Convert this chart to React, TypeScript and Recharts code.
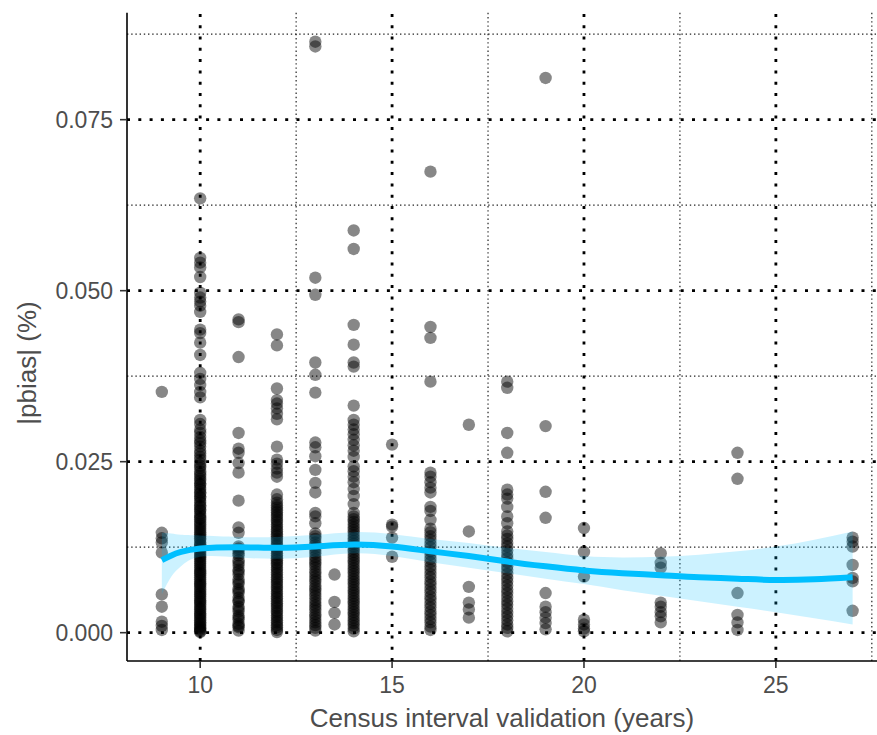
import {
  ComposedChart,
  Scatter,
  Line,
  Area,
  XAxis,
  YAxis,
  ReferenceLine,
} from 'recharts';

// observed |pbias| per census interval (years)
const col9 = [0.0352, 0.0146, 0.0138, 0.0132, 0.0117, 0.0056, 0.0038, 0.0016, 0.001, 0.0004];
const col10 = [
  0.0635, 0.0548, 0.0541, 0.0534, 0.052, 0.0497, 0.049, 0.0484, 0.0478, 0.0469, 0.0443, 0.0438,
  0.0424, 0.0406, 0.038, 0.0371, 0.0362, 0.0352, 0.0344, 0.0311, 0.0305, 0.0297, 0.0292, 0.0286,
  0.0281, 0.0277, 0.0272, 0.0266, 0.0262, 0.0257, 0.0253, 0.0248, 0.0244, 0.0241, 0.0236, 0.0232,
  0.0229, 0.0225, 0.0222, 0.0218, 0.0216, 0.0212, 0.0209, 0.0205, 0.0203, 0.0199, 0.0197, 0.0193,
  0.019, 0.0186, 0.0184, 0.018, 0.0178, 0.0174, 0.0171, 0.0168, 0.0166, 0.0162, 0.0159, 0.0156,
  0.0153, 0.015, 0.0147, 0.0144, 0.0141, 0.0138, 0.0136, 0.0132, 0.0129, 0.0127, 0.0124, 0.0121,
  0.0118, 0.0115, 0.0112, 0.011, 0.0107, 0.0104, 0.0101, 0.0098, 0.0095, 0.0092, 0.0089, 0.0087,
  0.0084, 0.0081, 0.0078, 0.0075, 0.0072, 0.007, 0.0067, 0.0064, 0.0061, 0.0058, 0.0056, 0.0053,
  0.005, 0.0047, 0.0045, 0.0042, 0.0039, 0.0036, 0.0034, 0.0031, 0.0028, 0.0026, 0.0023, 0.002,
  0.0018, 0.0015, 0.0013, 0.001, 0.0008, 0.0006, 0.0004, 0.0002, 0.0001,
];
const col11 = [
  0.0458, 0.0454, 0.0403, 0.0292, 0.0269, 0.0263, 0.0248, 0.0234, 0.0193, 0.0154, 0.0146, 0.0126,
  0.0123, 0.012, 0.0116, 0.0113, 0.0106, 0.0102, 0.0098, 0.0092, 0.0089, 0.0085, 0.0078, 0.0074,
  0.0071, 0.0064, 0.0061, 0.0058, 0.0051, 0.0047, 0.0045, 0.0038, 0.0035, 0.0031, 0.0025, 0.0022,
  0.0019, 0.0013, 0.001, 0.0008, 0.0003,
];
const col12 = [
  0.0436, 0.042, 0.0357, 0.034, 0.0335, 0.0328, 0.032, 0.0312, 0.0272, 0.0253, 0.0247, 0.024,
  0.0234, 0.0228, 0.0202, 0.0195, 0.019, 0.0186, 0.0183, 0.0179, 0.0176, 0.0172, 0.0169, 0.0165,
  0.0162, 0.0158, 0.0155, 0.0151, 0.0148, 0.0144, 0.0141, 0.0137, 0.0134, 0.013, 0.0127, 0.0123,
  0.012, 0.0116, 0.0113, 0.0109, 0.0106, 0.0102, 0.0099, 0.0095, 0.0092, 0.0088, 0.0085, 0.0081,
  0.0078, 0.0074, 0.0071, 0.0067, 0.0064, 0.006, 0.0057, 0.0053, 0.005, 0.0046, 0.0043, 0.0039,
  0.0036, 0.0032, 0.0029, 0.0025, 0.0022, 0.0018, 0.0015, 0.0011, 0.0008, 0.0004, 0.0001,
];
const col13 = [
  0.0864, 0.0857, 0.0519, 0.0494, 0.0395, 0.0377, 0.0351, 0.0278, 0.0271, 0.0258, 0.0238, 0.0219,
  0.0205, 0.0175, 0.017, 0.016, 0.0145, 0.0141, 0.0137, 0.0132, 0.0128, 0.0124, 0.012, 0.0116,
  0.0111, 0.0107, 0.0103, 0.0099, 0.0095, 0.009, 0.0086, 0.0082, 0.0078, 0.0074, 0.0069, 0.0065,
  0.0061, 0.0057, 0.0053, 0.0048, 0.0044, 0.004, 0.0036, 0.0032, 0.0027, 0.0023, 0.0019, 0.0015,
  0.0011, 0.0007, 0.0003,
];
const col13h = [0.0085, 0.0045, 0.0029, 0.0012];
const col14 = [
  0.0588, 0.0561, 0.045, 0.0421, 0.0395, 0.0389, 0.0332, 0.0311, 0.0304, 0.0297, 0.029, 0.0282,
  0.0274, 0.0266, 0.0257, 0.0243, 0.0236, 0.0228, 0.022, 0.021, 0.02, 0.0188, 0.0175, 0.017,
  0.0166, 0.0162, 0.0158, 0.0154, 0.015, 0.0146, 0.0142, 0.0138, 0.0134, 0.013, 0.0126, 0.0122,
  0.0118, 0.0114, 0.011, 0.0106, 0.0102, 0.0098, 0.0094, 0.009, 0.0086, 0.0082, 0.0078, 0.0074,
  0.007, 0.0066, 0.0062, 0.0058, 0.0054, 0.005, 0.0046, 0.0042, 0.0038, 0.0034, 0.003, 0.0026,
  0.0022, 0.0018, 0.0014, 0.001, 0.0006, 0.0002,
];
const col15 = [0.0275, 0.0158, 0.0155, 0.0139, 0.0111];
const col16 = [
  0.0674, 0.0447, 0.0431, 0.0367, 0.0234, 0.0228, 0.022, 0.0212, 0.0205, 0.0184, 0.0178, 0.0165,
  0.0152, 0.0147, 0.0141, 0.0136, 0.013, 0.0125, 0.0119, 0.0114, 0.0108, 0.0103, 0.0097, 0.0092,
  0.0086, 0.0081, 0.0075, 0.007, 0.0064, 0.0059, 0.0053, 0.0048, 0.0042, 0.0037, 0.0031, 0.0026,
  0.002, 0.0015, 0.0009, 0.0004,
];
const col17 = [0.0304, 0.0148, 0.0067, 0.0044, 0.0034, 0.0022];
const col18 = [
  0.0367, 0.0358, 0.0292, 0.0263, 0.0209, 0.0202, 0.0196, 0.0184, 0.017, 0.016, 0.0148, 0.0142,
  0.0137, 0.0131, 0.0126, 0.012, 0.0114, 0.0109, 0.0103, 0.0097, 0.0092, 0.0086, 0.008, 0.0075,
  0.0069, 0.0063, 0.0058, 0.0052, 0.0046, 0.0041, 0.0035, 0.0029, 0.0024, 0.0018, 0.0012, 0.0007,
  0.0002,
];
const col19 = [0.0811, 0.0302, 0.0206, 0.0168, 0.0058, 0.0038, 0.003, 0.0022, 0.0014, 0.0005];
const col20 = [0.0153, 0.0118, 0.0082, 0.0019, 0.0012, 0.0006, 0.0002];
const col22 = [0.0116, 0.0102, 0.0095, 0.0044, 0.0038, 0.003, 0.0024, 0.0015];
const col24 = [0.0263, 0.0225, 0.0058, 0.0026, 0.0015, 0.0004];
const col27 = [0.0139, 0.0133, 0.0126, 0.0099, 0.008, 0.0075, 0.0032];

const intervals = [9, 10, 11, 12, 13, 13.5, 14, 15, 16, 17, 18, 19, 20, 22, 24, 27];
const columns = [col9, col10, col11, col12, col13, col13h, col14, col15, col16, col17, col18, col19, col20, col22, col24, col27];

// loess fit and its confidence band
const fitX = [9, 9.25, 9.5, 10, 11, 12, 13, 14, 15, 16, 17, 18, 19, 20, 21, 22, 23, 24, 25, 26, 27];
const fitY = [0.0106, 0.0113, 0.0118, 0.0123, 0.0125, 0.0124, 0.0126, 0.0129, 0.0126, 0.0119, 0.0112, 0.0104, 0.0097, 0.0091, 0.0087, 0.0084, 0.0081, 0.0079, 0.0077, 0.0078, 0.0081];
const fitLo = [0.0056, 0.0082, 0.0097, 0.0111, 0.011, 0.0108, 0.0111, 0.0116, 0.0112, 0.0103, 0.0095, 0.0087, 0.0079, 0.0071, 0.0062, 0.0054, 0.0046, 0.0038, 0.003, 0.0021, 0.0012];
const fitHi = [0.0146, 0.0145, 0.0143, 0.0142, 0.014, 0.014, 0.0143, 0.0147, 0.0144, 0.0137, 0.0131, 0.0124, 0.0118, 0.0112, 0.011, 0.0111, 0.0114, 0.0119, 0.0126, 0.0136, 0.0148];

const xTicks = [10, 15, 20, 25];
const yTicks = [0, 0.025, 0.05, 0.075];
const xMinor = [12.5, 17.5, 22.5, 27.5];
const yMinor = [0.0125, 0.0375, 0.0625, 0.0875];

const points = intervals.flatMap((x, i) => columns[i].map(y => ({ x, y })));
const fit = fitX.map((x, i) => ({ x, y: fitY[i], band: [fitLo[i], fitHi[i]] }));

const TEXT = '#4d4d4d';
const FONT = '"Liberation Sans", Arial, sans-serif';

const Dot = (props: any) => (
  <circle cx={props.cx} cy={props.cy} r={6.2} fill="#000" fillOpacity={0.47} />
);

export default function App() {
  return (
    <div style={{ position: 'absolute', left: 0, top: 0, fontFamily: FONT }}>
      <ComposedChart
        width={877}
        height={735}
        margin={{ top: 12.7, right: 0, bottom: 0, left: 0 }}
      >
        <XAxis
          type="number"
          dataKey="x"
          domain={[8.093, 27.635]}
          ticks={xTicks}
          allowDataOverflow
          height={74}
          stroke="#000"
          strokeWidth={1.6}
          tickSize={7}
          tickMargin={9}
          tick={{ fill: TEXT, fontSize: 23, fontFamily: FONT }}
          tickLine={{ stroke: '#333', strokeWidth: 1.6 }}
          label={{
            value: 'Census interval validation (years)',
            position: 'insideBottom',
            offset: 8,
            fill: TEXT,
            fontSize: 26,
            fontFamily: FONT,
          }}
        />
        <YAxis
          type="number"
          dataKey="y"
          domain={[-0.00414, 0.09064]}
          ticks={yTicks}
          allowDataOverflow
          width={127}
          stroke="#000"
          strokeWidth={1.6}
          tickSize={7}
          tickMargin={7}
          tickFormatter={(v: number) => v.toFixed(3)}
          tick={{ fill: TEXT, fontSize: 23, fontFamily: FONT }}
          tickLine={{ stroke: '#333', strokeWidth: 1.6 }}
          label={{
            content: () => (
              <text
                x={27}
                y={363}
                transform="rotate(-90, 27, 363)"
                textAnchor="middle"
                dominantBaseline="central"
                fill={TEXT}
                fontSize={26}
                fontFamily={FONT}
              >
                |pbias| (%)
              </text>
            ),
          }}
        />
        {xMinor.map(v => (
          <ReferenceLine key={`xm${v}`} x={v} stroke="#222" strokeWidth={1.2} strokeDasharray="1.4 2.8" zIndex={-60} />
        ))}
        {yMinor.map(v => (
          <ReferenceLine key={`ym${v}`} y={v} stroke="#222" strokeWidth={1.2} strokeDasharray="1.4 2.8" zIndex={-60} />
        ))}
        {xTicks.map(v => (
          <ReferenceLine key={`xM${v}`} x={v} stroke="#000" strokeWidth={2.8} strokeDasharray="3 8.3" zIndex={-50} />
        ))}
        {yTicks.map(v => (
          <ReferenceLine key={`yM${v}`} y={v} stroke="#000" strokeWidth={2.8} strokeDasharray="3 8.3" zIndex={-50} />
        ))}
        <Scatter
          data={points}
          dataKey="y"
          shape={Dot}
          isAnimationActive={false}
          zIndex={50}
        />
        <Area
          data={fit}
          dataKey="band"
          type="natural"
          stroke="none"
          fill="#00bfff"
          fillOpacity={0.2}
          isAnimationActive={false}
          zIndex={100}
        />
        <Line
          data={fit}
          dataKey="y"
          type="natural"
          stroke="#00bfff"
          strokeWidth={6}
          dot={false}
          activeDot={false}
          isAnimationActive={false}
          zIndex={400}
        />
      </ComposedChart>
    </div>
  );
}
